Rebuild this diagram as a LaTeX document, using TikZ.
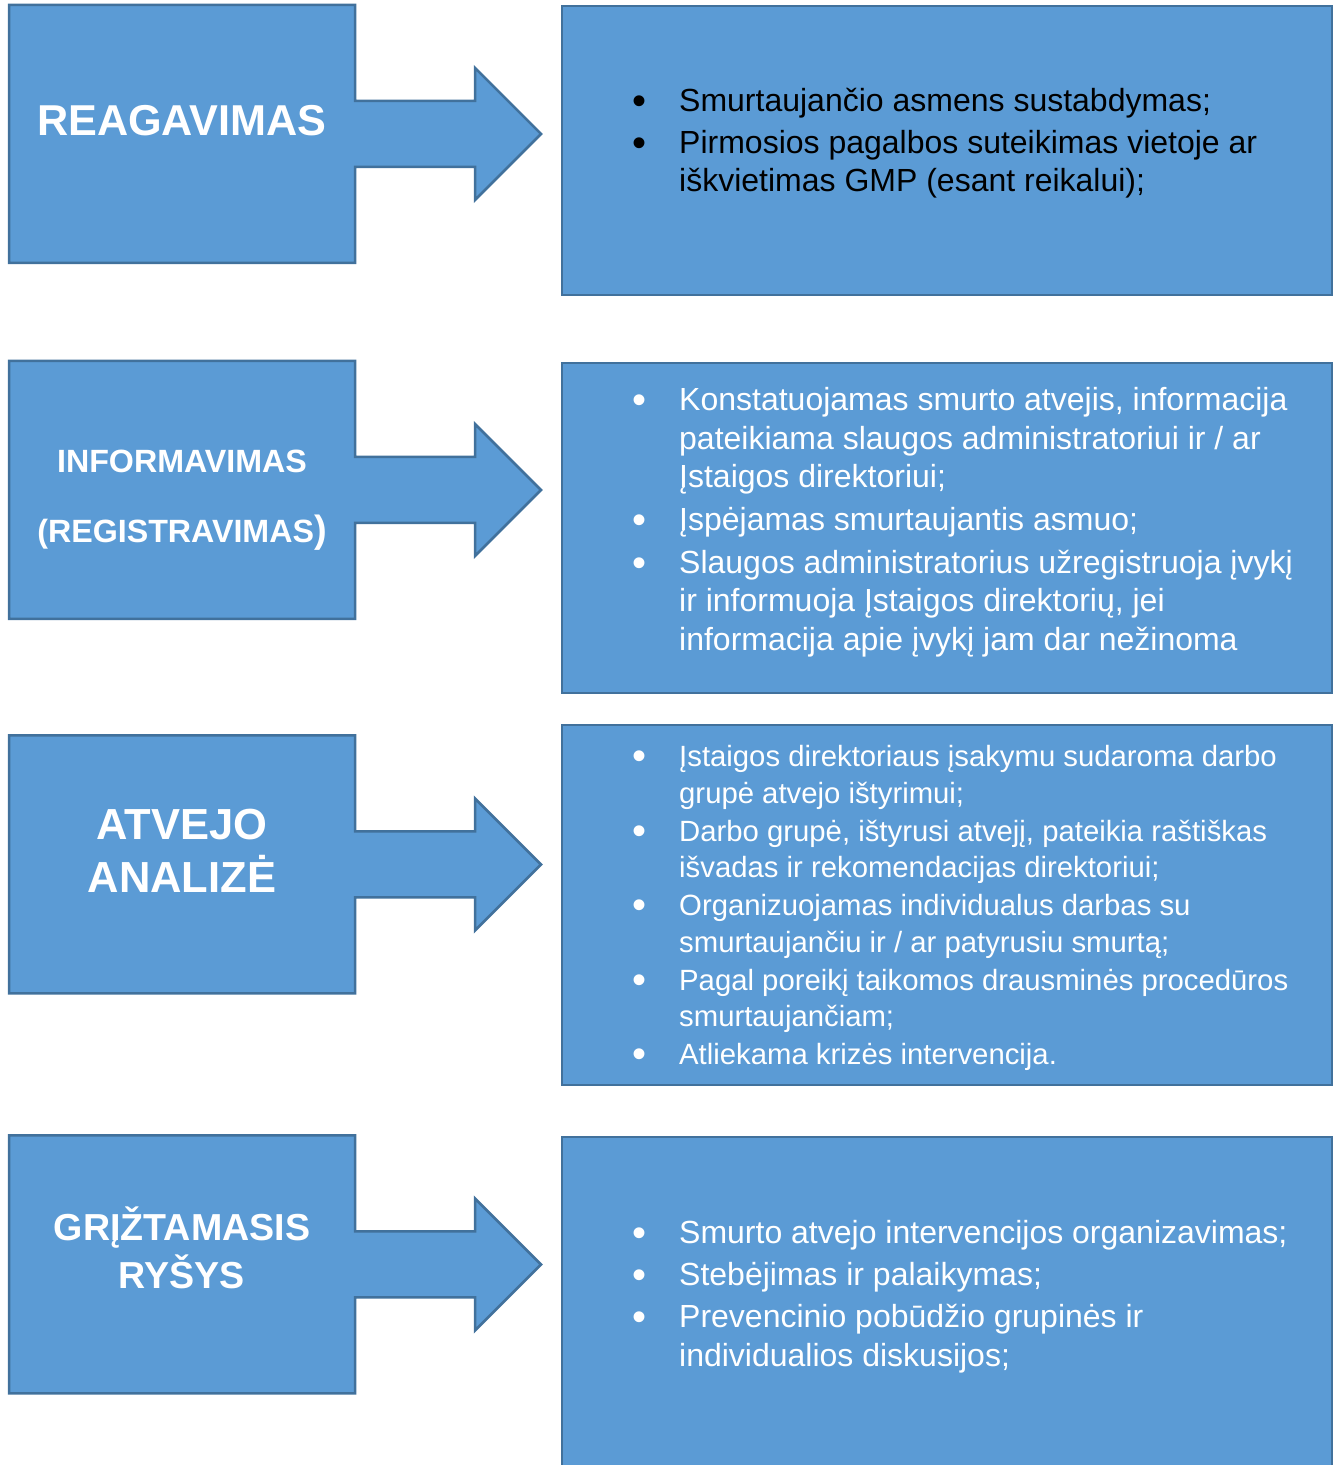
\documentclass[tikz,border=0pt]{standalone}
\usepackage{fontspec}
\setmainfont{Liberation Sans}
\usetikzlibrary{calc}
\definecolor{cFill}{HTML}{5B9BD5}
\definecolor{cEdge}{HTML}{41719C}
% bullet cell of the step lists
\newcommand{\bul}{\makebox[47pt][l]{\raisebox{-3pt}{\fontsize{40}{40}\selectfont\textbullet}}}

\begin{document}
\begin{tikzpicture}[x=1pt,y=1pt,
  lbox/.style={minimum width=346,minimum height=258,inner sep=0,outer sep=0},
  callout/.style={fill=cFill,draw=cEdge,line width=2.5pt,line join=miter},
  rbox/.style={fill=cFill,draw=cEdge,line width=2.5pt,minimum width=770,inner sep=0,outer sep=0},
  head/.style={anchor=base,text=white,inner sep=0},
  steps/.style={anchor=base west,inner sep=0,text=white}]
  \useasboundingbox (0,0) rectangle (1339,1465);
  % left stages (box + arrow)
  \node[lbox] (react) at (182,1331) {};
  \node[lbox] (inform) at (182,975) {};
  \node[lbox] (anal) at (182,600.5) {};
  \node[lbox] (feed) at (182,200.5) {};
  \filldraw[callout] (react.north west) -- (react.north east) -- ($(react.east)+(0,33)$) -- ++(120,0) -- ++(0,33)
    -- ($(react.east)+(186,0)$) -- ($(react.east)+(120,-66)$) -- ++(0,33) -- ($(react.east)+(0,-33)$)
    -- (react.south east) -- (react.south west) -- cycle;
  \filldraw[callout] (inform.north west) -- (inform.north east) -- ($(inform.east)+(0,33)$) -- ++(120,0) -- ++(0,33)
    -- ($(inform.east)+(186,0)$) -- ($(inform.east)+(120,-66)$) -- ++(0,33) -- ($(inform.east)+(0,-33)$)
    -- (inform.south east) -- (inform.south west) -- cycle;
  \filldraw[callout] (anal.north west) -- (anal.north east) -- ($(anal.east)+(0,33)$) -- ++(120,0) -- ++(0,33)
    -- ($(anal.east)+(186,0)$) -- ($(anal.east)+(120,-66)$) -- ++(0,33) -- ($(anal.east)+(0,-33)$)
    -- (anal.south east) -- (anal.south west) -- cycle;
  \filldraw[callout] (feed.north west) -- (feed.north east) -- ($(feed.east)+(0,33)$) -- ++(120,0) -- ++(0,33)
    -- ($(feed.east)+(186,0)$) -- ($(feed.east)+(120,-66)$) -- ++(0,33) -- ($(feed.east)+(0,-33)$)
    -- (feed.south east) -- (feed.south west) -- cycle;
  \node[head,font=\bfseries\fontsize{43.2}{52}\selectfont] (react-t) at (182,1329) {REAGAVIMAS};
  \node[head,font=\bfseries\fontsize{32.2}{70.5}\selectfont] (inform-t) at (182,992.5)
    {\begin{tabular}[t]{@{}c@{}}INFORMAVIMAS\\(REGISTRAVIMAS{\fontsize{38}{38}\selectfont)}\end{tabular}};
  \node[head,font=\bfseries\fontsize{43.5}{52}\selectfont] (anal-t) at (182,625)
    {\begin{tabular}[t]{@{}c@{}}ATVEJO\\ANALIZĖ\end{tabular}};
  \node[head,font=\bfseries\fontsize{37.6}{47}\selectfont] (feed-t) at (182,224)
    {\begin{tabular}[t]{@{}c@{}}GRĮŽTAMASIS\\RYŠYS\end{tabular}};
  % right boxes
  \node[rbox,minimum height=289] (react-r) at (947,1314.5) {};
  \node[rbox,minimum height=330] (inform-r) at (947,937) {};
  \node[rbox,minimum height=360] (anal-r) at (947,560) {};
  \node[rbox,minimum height=343] (feed-r) at (947,156.5) {};
  \node[steps,text=black,font=\fontsize{32}{38.5}\selectfont] (react-s) at (632,1353)
    {\begin{tabular}[t]{@{}l@{}l@{}}
     \bul & Smurtaujančio asmens sustabdymas;\\[3pt]
     \bul & Pirmosios pagalbos suteikimas vietoje ar\\
          & iškvietimas GMP (esant reikalui);
     \end{tabular}};
  \node[steps,font=\fontsize{32}{38.7}\selectfont] (inform-s) at (632,1054.5)
    {\begin{tabular}[t]{@{}l@{}l@{}}
     \bul & Konstatuojamas smurto atvejis, informacija\\
          & pateikiama slaugos administratoriui ir / ar\\
          & Įstaigos direktoriui;\\[4pt]
     \bul & Įspėjamas smurtaujantis asmuo;\\[4pt]
     \bul & Slaugos administratorius užregistruoja įvykį\\
          & ir informuoja Įstaigos direktorių, jei\\
          & informacija apie įvykį jam dar nežinoma
     \end{tabular}};
  \node[steps,font=\fontsize{29.3}{36.5}\selectfont] (anal-s) at (632,698)
    {\begin{tabular}[t]{@{}l@{}l@{}}
     \bul & Įstaigos direktoriaus įsakymu sudaroma darbo\\
          & grupė atvejo ištyrimui;\\[1.5pt]
     \bul & Darbo grupė, ištyrusi atvejį, pateikia raštiškas\\
          & išvadas ir rekomendacijas direktoriui;\\[1.5pt]
     \bul & Organizuojamas individualus darbas su\\
          & smurtaujančiu ir / ar patyrusiu smurtą;\\[1.5pt]
     \bul & Pagal poreikį taikomos drausminės procedūros\\
          & smurtaujančiam;\\[1.5pt]
     \bul & Atliekama krizės intervencija.
     \end{tabular}};
  \node[steps,font=\fontsize{32}{39}\selectfont] (feed-s) at (632,221)
    {\begin{tabular}[t]{@{}l@{}l@{}}
     \bul & Smurto atvejo intervencijos organizavimas;\\[3pt]
     \bul & Stebėjimas ir palaikymas;\\[3pt]
     \bul & Prevencinio pobūdžio grupinės ir\\
          & individualios diskusijos;
     \end{tabular}};
\end{tikzpicture}
\end{document}
